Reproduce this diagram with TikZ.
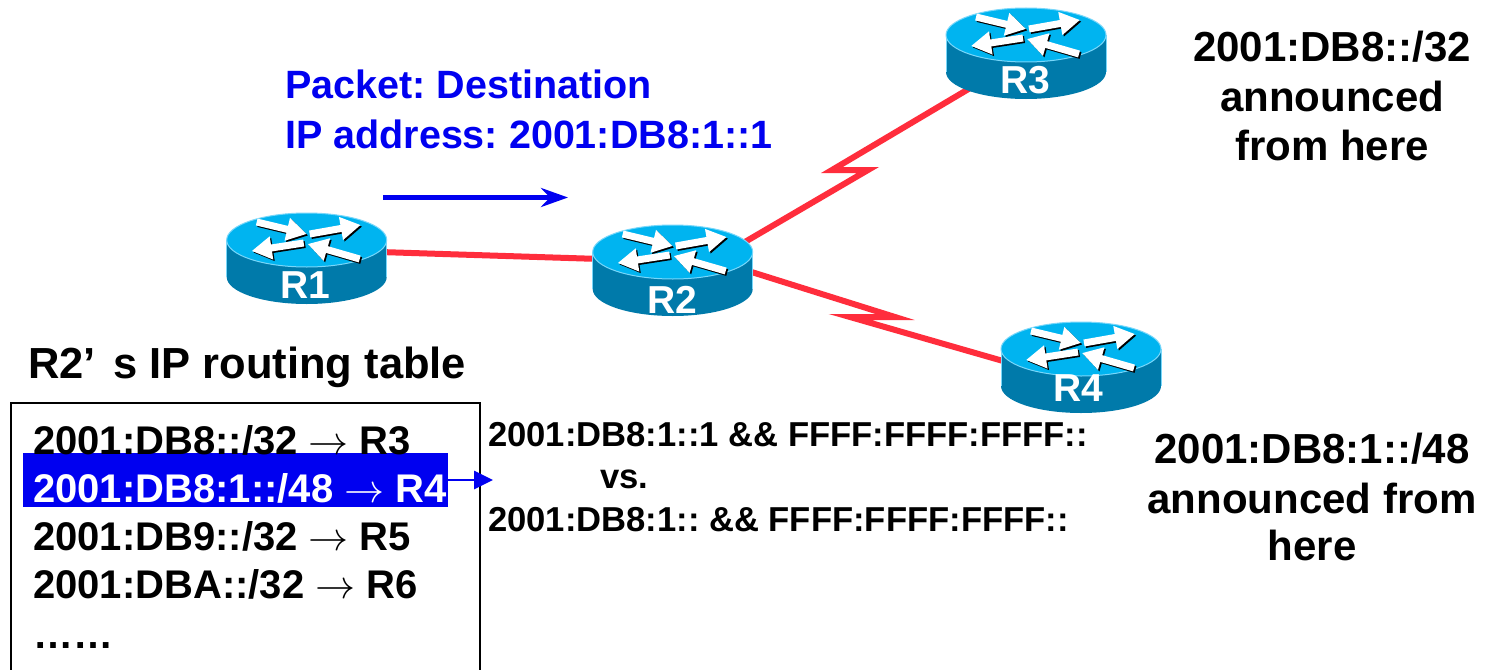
\RequirePackage{fix-cm}
\documentclass[tikz,border=0pt]{standalone}
\usepackage{fontspec}
\setmainfont{Liberation Sans}
\usetikzlibrary{arrows.meta}
\frenchspacing
\definecolor{rtop}{RGB}{0,180,240}
\definecolor{rside}{RGB}{0,122,170}
\definecolor{rrim}{RGB}{120,215,250}
\definecolor{lnk}{RGB}{255,45,60}
\definecolor{pblue}{RGB}{0,0,240}
\newcommand{\tarr}{$\rightarrow$}
\tikzset{
  pics/router/.style={code={
    \fill[rside] (0,37) ellipse[x radius=80pt,y radius=27pt];
    \fill[rside] (-80,0) rectangle (80,37);
    \draw[rrim,line width=0.8pt] (-80,0) -- (-80,37) (80,0) -- (80,37);
    \fill[rtop] (0,0) ellipse[x radius=80pt,y radius=27pt];
    \draw[rrim,line width=1pt] (0,0) ellipse[x radius=80pt,y radius=27pt];
    \foreach \a/\b/\c/\d in {-50/-18/0/-6, 3/-6/54/-15, -3/3/-55/11, 53/19/1/4}{
      \draw[black,line width=7pt,-{Triangle[length=20pt,width=22pt]}] (\a+1.5,\b+1.5) -- (\c+1.5,\d+1.5);
      \draw[white,line width=7pt,-{Triangle[length=20pt,width=22pt]}] (\a,\b) -- (\c,\d);
    }
  }},
  link/.style={draw=lnk,line width=6pt,line join=miter},
  lbl/.style={text=white,font=\bfseries\fontsize{39}{39}\selectfont,inner sep=0pt,anchor=base},
  btxt/.style={text=pblue,font=\bfseries\fontsize{39.5}{48}\selectfont,inner sep=0pt,anchor=base west},
  big/.style={font=\bfseries\fontsize{42}{48}\selectfont,inner sep=0pt},
  row/.style={font=\bfseries\fontsize{40}{48}\selectfont,inner sep=0pt,anchor=base west},
  mid/.style={font=\bfseries\fontsize{34.6}{40}\selectfont,inner sep=0pt,anchor=base west},
}
\begin{document}
\begin{tikzpicture}[x=1pt,y=-1pt]
\fill[white] (0,0) rectangle (1485,669);
\useasboundingbox (0,0) rectangle (1485,669);
% link end points
\coordinate (r1e) at (380,252);
\coordinate (r2w) at (600,259);
\coordinate (r2ne) at (738,246);
\coordinate (za) at (868,170);
\coordinate (zb) at (832,170);
\coordinate (r3sw) at (977,84);
\coordinate (r2se) at (742,269);
\coordinate (zc) at (895,317);
\coordinate (zd) at (850,317);
\coordinate (r4w) at (1010,363);
\draw[link] (r1e) -- (r2w);
\draw[link] (r2ne) -- (za) -- (zb) -- (r3sw);
\draw[link] (r2se) -- (zc) -- (zd) -- (r4w);
% routers
\pic at (306.7,240) {router};
\pic at (672.7,252) {router};
\pic at (1026,35) {router};
\pic at (1081,349) {router};
\node[lbl] (r1) at (305,298) {R1};
\node[lbl] (r2) at (672,313) {R2};
\node[lbl] (r3) at (1025,93) {R3};
\node[lbl] (r4) at (1078,401.7) {R4};
% packet text and arrow
\node[btxt] (pk1) at (285,98.3) {Packet: Destination};
\node[btxt] (pk2) at (285,148) {IP address: 2001:DB8:1::1};
\coordinate (pa) at (383,197.5);
\coordinate (pb) at (568,197.5);
\draw[pblue,line width=5.5pt,-{Stealth[length=27pt,width=19pt,inset=9pt]}] (pa) -- (pb);
% announcements
\node[big,anchor=base] (a1) at (1332,61.7) {2001:DB8::/32};
\node[big,anchor=base] (a2) at (1332,111.7) {announced};
\node[big,anchor=base] (a3) at (1332,160) {from here};
\node[big,anchor=base] (b1) at (1312,463.3) {2001:DB8:1::/48};
\node[big,anchor=base] (b2) at (1312,513) {announced from};
\node[big,anchor=base] (b3) at (1312,560) {here};
% routing table
\node[big,font=\bfseries\fontsize{43.5}{48}\selectfont,anchor=base west] (ttl) at (28,378) {R2’\hspace{0.4em}s IP routing table};
\draw[line width=2.5pt] (11,690) -- (11,403) -- (480,403) -- (480,690);
\fill[pblue] (22.7,453) rectangle (448,507);
\node[row] (t1) at (33,454) {2001:DB8::/32 \tarr{} R3};
\node[row,text=white] (t2) at (33,502) {2001:DB8:1::/48 \tarr{} R4};
\node[row] (t3) at (33,550) {2001:DB9::/32 \tarr{} R5};
\node[row] (t4) at (33,598) {2001:DBA::/32 \tarr{} R6};
\node[row] (t5) at (33,648) {……};
\coordinate (sa) at (446,480);
\coordinate (sb) at (493,480);
\draw[pblue,line width=2.7pt,-{Triangle[length=19pt,width=18pt]}] (sa) -- (sb);
% comparison
\node[mid] (c1) at (488,446.7) {2001:DB8:1::1 \&\& FFFF:FFFF:FFFF::};
\node[mid] (c2) at (600,488) {vs.};
\node[mid] (c3) at (488,531.7) {2001:DB8:1:: \&\& FFFF:FFFF:FFFF::};
\end{tikzpicture}
\end{document}
